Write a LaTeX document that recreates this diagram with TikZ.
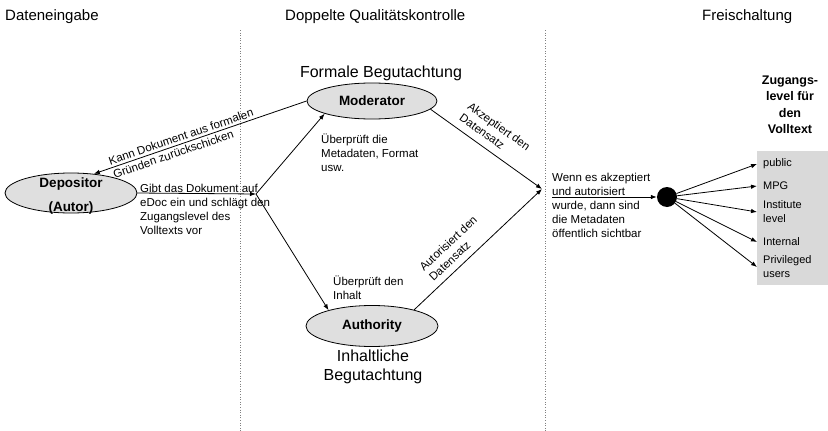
\documentclass[tikz,border=0pt]{standalone}
\usepackage{fontspec}
\setmainfont{Liberation Sans}
\usetikzlibrary{shapes.geometric,arrows.meta}

\newcommand\headfont{\fontsize{15}{18}\selectfont}
\newcommand\stagefont{\fontsize{16}{19}\selectfont}
\newcommand\notefont{\fontsize{11.5}{14}\selectfont}
\newcommand\actorfont{\fontsize{13.5}{24}\selectfont\bfseries}
\newcommand\itemfont{\fontsize{11}{14}\selectfont}

\begin{document}
\begin{tikzpicture}[x=1pt,y=-1pt,
  actor/.style={ellipse,draw,line width=0.8pt,fill=gray!25,inner sep=0pt,font=\actorfont},
  note/.style={anchor=north west,align=left,font=\notefont,inner sep=0pt},
  head/.style={anchor=west,font=\headfont,inner sep=0pt},
  lvl/.style={anchor=west,align=left,font=\itemfont,inner xsep=6pt,inner ysep=0pt},
  link/.style={-{Latex[length=6pt,width=4.5pt]},line width=0.8pt},
  sep/.style={dotted,gray,line width=0.6pt}]

\useasboundingbox (0,0) rectangle (828,431);

%column separators and headings
\draw[sep] (240,30) -- (240,431);
\draw[sep] (545,30) -- (545,431);
\node[head] (input) at (5,17) {Dateneingabe};
\node[head] (check) at (285,17) {Doppelte Qualitätskontrolle};
\node[head] (release) at (702,17) {Freischaltung};

%access level box
\fill[gray!30] (757,151) rectangle (828,285);
\node[font=\fontsize{12.5}{16.5}\selectfont\bfseries,align=center] (zug) at (790,105) {Zugangs-\\level für\\den\\Volltext};
\node[lvl] (public) at (757,164) {public};
\node[lvl] (mpg) at (757,186) {MPG};
\node[lvl] (inst) at (757,212) {Institute\\level};
\node[lvl] (intern) at (757,242) {Internal};
\node[lvl] (priv) at (757,267) {Privileged\\users};

%actors
\node[actor,minimum width=132pt,minimum height=40pt,
  label={[font=\actorfont,align=center,yshift=-3pt]center:{Depositor\\(Autor)}}] (dep) at (71,193) {};
\node[actor,minimum width=130pt,minimum height=36pt] (mod) at (372,101) {Moderator};
\node[actor,minimum width=132pt,minimum height=41pt] (auth) at (372,326) {Authority};
\node[font=\stagefont] (formal) at (381,73) {Formale Begutachtung};
\node[font=\stagefont,align=center] (inhalt) at (373,367) {Inhaltliche\\Begutachtung};

%notes
\node[note] (give) at (140,184) {Gibt das Dokument auf\\eDoc ein und schlägt den\\Zugangslevel des\\Volltexts vor};
\node[note] (meta) at (321,134) {Überprüft die\\Metadaten, Format\\usw.};
\node[note] (content) at (333,276) {Überprüft den\\Inhalt};
\node[note] (public note) at (552,173) {Wenn es akzeptiert\\und autorisiert\\wurde, dann sind\\die Metadaten\\öffentlich sichtbar};

\node[circle,fill=black,minimum size=20pt,inner sep=0pt] (gate) at (667,197) {};
\coordinate (J) at (256,194);
\coordinate (M) at (542,189);
\coordinate (rel) at (552,197);

%connectors
\draw[link] (dep.east) -- (J);
\draw[link] (J) -- (mod.195);
\draw[link] (J) -- (auth.160);
\draw[link] (mod.west) -- node[sloped,pos=.58,align=left,font=\notefont]{Kann Dokument aus formalen\\Gründen zurückschicken} (dep.40);
\draw[link] (mod.-8) -- node[sloped,above=4pt,pos=.48,align=left,font=\notefont]{Akzeptiert den\\Datensatz} (M);
\draw[link] (auth.21) -- node[sloped,above=3pt,pos=.4,align=left,font=\notefont]{Autorisiert den\\Datensatz} (M);
\draw[link] (rel) -- (gate);
\foreach \t in {public,mpg,inst,intern,priv}
  \draw[link] (gate) -- (\t.west);

\end{tikzpicture}
\end{document}
